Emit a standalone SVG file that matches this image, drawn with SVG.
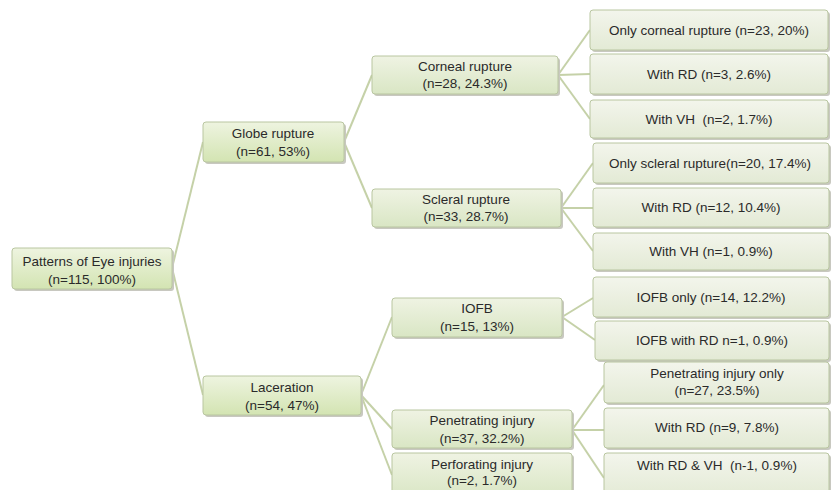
<svg xmlns="http://www.w3.org/2000/svg" width="831" height="490" viewBox="0 0 831 490">
<defs>
<linearGradient id="gMain" x1="0" y1="0" x2="0" y2="1">
<stop offset="0" stop-color="#eef4e0"/><stop offset="1" stop-color="#d3e4b2"/>
</linearGradient>
<linearGradient id="gMid" x1="0" y1="0" x2="0" y2="1">
<stop offset="0" stop-color="#eff3e3"/><stop offset="1" stop-color="#d9e6c4"/>
</linearGradient>
<linearGradient id="gLeaf" x1="0" y1="0" x2="0" y2="1">
<stop offset="0" stop-color="#f3f5ec"/><stop offset="1" stop-color="#e3ead5"/>
</linearGradient>
</defs>
<style>
.sh{fill:#c8c8c0;}
.n{stroke:#b9c6a0;stroke-width:1;}
.main{fill:url(#gMain);}
.mid{fill:url(#gMid);}
.leaf{fill:url(#gLeaf);}
text{font-family:"Liberation Sans",Arial,sans-serif;font-size:13.5px;fill:#2a2a2a;text-anchor:middle;white-space:pre;}
.c line{stroke:#c5d1a8;stroke-width:2;}
</style>
<rect width="831" height="490" fill="#ffffff"/>
<g class="c" id="connectors">
<line x1="172" y1="268" x2="203" y2="142"/>
<line x1="172" y1="268" x2="203" y2="395"/>
<line x1="344" y1="142" x2="372" y2="75"/>
<line x1="344" y1="142" x2="372" y2="208"/>
<line x1="361" y1="395" x2="392" y2="317"/>
<line x1="361" y1="395" x2="392" y2="429"/>
<line x1="361" y1="395" x2="392" y2="475"/>
<line x1="558" y1="75" x2="590" y2="30"/>
<line x1="558" y1="75" x2="590" y2="74"/>
<line x1="558" y1="75" x2="590" y2="119"/>
<line x1="561" y1="208" x2="593" y2="163"/>
<line x1="561" y1="208" x2="593" y2="208"/>
<line x1="561" y1="208" x2="593" y2="251"/>
<line x1="562" y1="317" x2="593" y2="298"/>
<line x1="562" y1="317" x2="595" y2="340"/>
<line x1="572" y1="430" x2="604" y2="385"/>
<line x1="572" y1="430" x2="604" y2="430"/>
<line x1="572" y1="430" x2="604" y2="478"/>
</g>
<g id="root">
<rect class="sh" x="14" y="250" width="160" height="41" rx="3"/>
<rect class="n main" x="12" y="248" width="160" height="41" rx="3"/>
<text x="92" y="266">Patterns of Eye injuries</text>
<text x="92" y="284">(n=115, 100%)</text>
</g>
<g id="globe">
<rect class="sh" x="205" y="124" width="141" height="40" rx="3"/>
<rect class="n main" x="203" y="122" width="141" height="40" rx="3"/>
<text x="273" y="138">Globe rupture</text>
<text x="273" y="156">(n=61, 53%)</text>
</g>
<g id="laceration">
<rect class="sh" x="205" y="378" width="158" height="39" rx="3"/>
<rect class="n main" x="203" y="376" width="158" height="39" rx="3"/>
<text x="282" y="392">Laceration</text>
<text x="282" y="410">(n=54, 47%)</text>
</g>
<g id="corneal">
<rect class="sh" x="374" y="58" width="186" height="38" rx="3"/>
<rect class="n mid" x="372" y="56" width="186" height="38" rx="3"/>
<text x="465" y="71">Corneal rupture</text>
<text x="465" y="88">(n=28, 24.3%)</text>
</g>
<g id="scleral">
<rect class="sh" x="374" y="191" width="189" height="38" rx="3"/>
<rect class="n mid" x="372" y="189" width="189" height="38" rx="3"/>
<text x="466" y="204">Scleral rupture</text>
<text x="466" y="221">(n=33, 28.7%)</text>
</g>
<g id="iofb">
<rect class="sh" x="394" y="300" width="170" height="39" rx="3"/>
<rect class="n mid" x="392" y="298" width="170" height="39" rx="3"/>
<text x="477" y="313">IOFB</text>
<text x="477" y="331">(n=15, 13%)</text>
</g>
<g id="penetrating">
<rect class="sh" x="394" y="412" width="180" height="38" rx="3"/>
<rect class="n mid" x="392" y="410" width="180" height="38" rx="3"/>
<text x="482" y="425">Penetrating injury</text>
<text x="482" y="443">(n=37, 32.2%)</text>
</g>
<g id="perforating">
<rect class="sh" x="394" y="455" width="180" height="45" rx="3"/>
<rect class="n mid" x="392" y="453" width="180" height="45" rx="3"/>
<text x="482" y="469">Perforating injury</text>
<text x="482" y="485">(n=2, 1.7%)</text>
</g>
<g id="leaf1">
<rect class="sh" x="592" y="12" width="238" height="40" rx="3"/>
<rect class="n leaf" x="590" y="10" width="238" height="40" rx="3"/>
<text x="709" y="35">Only corneal rupture (n=23, 20%)</text>
</g>
<g id="leaf2">
<rect class="sh" x="592" y="56" width="238" height="40" rx="3"/>
<rect class="n leaf" x="590" y="54" width="238" height="40" rx="3"/>
<text x="709" y="79">With RD (n=3, 2.6%)</text>
</g>
<g id="leaf3">
<rect class="sh" x="592" y="102" width="238" height="38" rx="3"/>
<rect class="n leaf" x="590" y="100" width="238" height="38" rx="3"/>
<text x="709" y="124">With VH  (n=2, 1.7%)</text>
</g>
<g id="leaf4">
<rect class="sh" x="595" y="145" width="236" height="40" rx="3"/>
<rect class="n leaf" x="593" y="143" width="236" height="40" rx="3"/>
<text x="710" y="168">Only scleral rupture(n=20, 17.4%)</text>
</g>
<g id="leaf5">
<rect class="sh" x="595" y="190" width="236" height="39" rx="3"/>
<rect class="n leaf" x="593" y="188" width="236" height="39" rx="3"/>
<text x="711" y="212">With RD (n=12, 10.4%)</text>
</g>
<g id="leaf6">
<rect class="sh" x="595" y="235" width="236" height="37" rx="3"/>
<rect class="n leaf" x="593" y="233" width="236" height="37" rx="3"/>
<text x="711" y="256">With VH (n=1, 0.9%)</text>
</g>
<g id="leaf7">
<rect class="sh" x="595" y="279" width="236" height="40" rx="3"/>
<rect class="n leaf" x="593" y="277" width="236" height="40" rx="3"/>
<text x="711" y="302">IOFB only (n=14, 12.2%)</text>
</g>
<g id="leaf8">
<rect class="sh" x="597" y="323" width="234" height="39" rx="3"/>
<rect class="n leaf" x="595" y="321" width="234" height="39" rx="3"/>
<text x="712" y="345">IOFB with RD n=1, 0.9%)</text>
</g>
<g id="leaf9">
<rect class="sh" x="606" y="364" width="225" height="41" rx="3"/>
<rect class="n leaf" x="604" y="362" width="225" height="41" rx="3"/>
<text x="717" y="378">Penetrating injury only</text>
<text x="717" y="395">(n=27, 23.5%)</text>
</g>
<g id="leaf10">
<rect class="sh" x="606" y="410" width="225" height="40" rx="3"/>
<rect class="n leaf" x="604" y="408" width="225" height="40" rx="3"/>
<text x="717" y="432">With RD (n=9, 7.8%)</text>
</g>
<g id="leaf11">
<rect class="sh" x="606" y="455" width="225" height="45" rx="3"/>
<rect class="n leaf" x="604" y="453" width="225" height="45" rx="3"/>
<text x="717" y="470">With RD &amp; VH  (n-1, 0.9%)</text>
</g>
</svg>
